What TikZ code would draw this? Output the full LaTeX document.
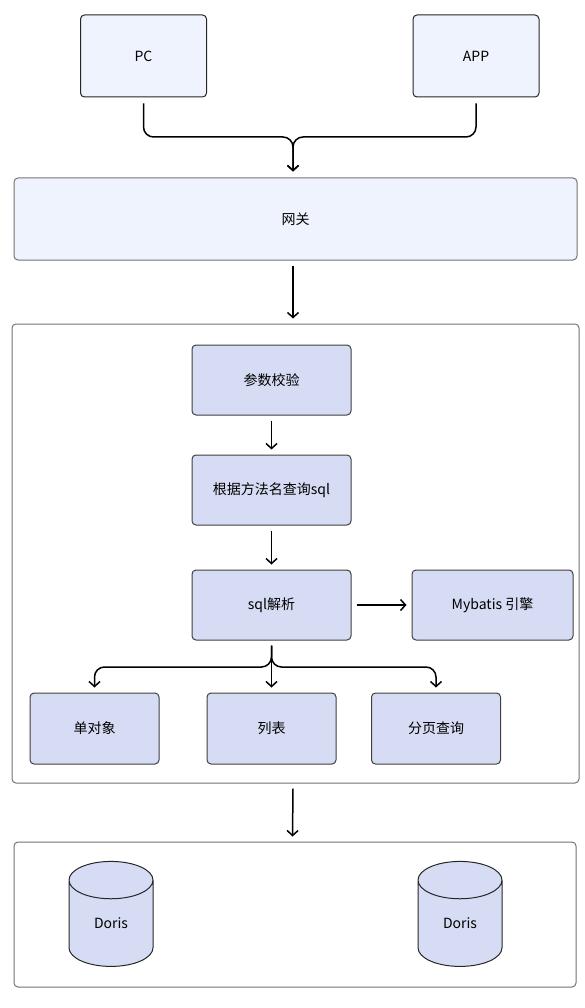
\documentclass[tikz,border=0pt]{standalone}
\usepackage{fontspec}
\setmainfont{Noto Sans CJK SC}
\usetikzlibrary{arrows.meta,shapes.geometric}
\definecolor{paleblue}{HTML}{EFF3FD}
\definecolor{stepblue}{HTML}{D6DCF4}

\def\boxw{159pt}
\def\boxh{70pt}

\begin{document}
\begin{tikzpicture}[x=1pt,y=-1pt,line width=1.5pt,
    -{Straight Barb[length=5pt,width=11pt]},font=\fontsize{14}{16}\selectfont]
    \tikzstyle{every node}=[inner sep=0pt,line width=1pt]
    \tikzstyle{client}=[draw=black!85,fill=paleblue,rounded corners=4pt,
        minimum width=126pt,minimum height=82pt]
    \tikzstyle{frame}=[draw=black!55,rounded corners=4pt]
    \tikzstyle{stepbox}=[draw=black!75,fill=stepblue,rounded corners=4pt,
        minimum width=\boxw,minimum height=\boxh]
    \tikzstyle{result}=[stepbox,minimum width=129pt,minimum height=71pt]
    \tikzstyle{db}=[cylinder,shape border rotate=90,draw=black!85,fill=stepblue,
        aspect=1.1,minimum width=84pt,minimum height=105pt]
    \tikzstyle{merge}=[rounded corners=10pt]

    \useasboundingbox (0,0) rectangle (584,1008);

    % Draw the clients
    \node[client] (PC) at (143.5,56) {PC};
    \node[client] (APP) at (476,56) {APP};

    % Draw the gateway and the two frames
    \node[frame,fill=paleblue,minimum width=563pt,minimum height=82pt] (gw) at (295.5,219) {网关};
    \node[frame,fill=white,minimum width=567pt,minimum height=459pt] (svc) at (295.5,553.5) {};
    \node[frame,fill=white,minimum width=562pt,minimum height=145pt] (store) at (295,914.5) {};

    % Draw the service steps
    \node[stepbox] (check) at (271.5,380) {参数校验};
    \node[stepbox] (query) at (271.5,490) {根据方法名查询sql};
    \node[stepbox] (parse) at (271.5,605) {sql解析};
    \node[stepbox,minimum width=161pt] (mybatis) at (492.5,605) {Mybatis 引擎};
    \node[result] (single) at (94.5,728.5) {单对象};
    \node[result] (list) at (271.5,728.5) {列表};
    \node[result] (page) at (436,728.5) {分页查询};

    % Draw the databases
    \node[db] (db1) at (111,923.5) {Doris};
    \node[db] (db2) at (460,923.5) {Doris};

    % Join the clients at the gateway
    \coordinate (j1) at (293,137);
    \draw[merge] ([yshift=-6pt]PC.south) -- (PC.south|-j1) -- (j1) -- ([yshift=6pt]j1|-gw.north);
    \draw[merge] ([yshift=-6pt]APP.south) -- (APP.south|-j1) -- (j1) -- ([yshift=6pt]j1|-gw.north);

    % Connect the steps
    \draw ([xshift=-2.5pt,yshift=-5pt]gw.south) -- ([xshift=-2.5pt,yshift=5pt]svc.north);
    \draw ([yshift=-5pt]check.south) -- ([yshift=5pt]query.north);
    \draw ([yshift=-5pt]query.south) -- ([yshift=5pt]parse.north);
    \draw ([xshift=5pt]parse.east) -- ([xshift=-5pt]mybatis.west);

    % Split the parsed sql into the results
    \coordinate (j2) at (271.5,667);
    \draw[merge] ([yshift=-5pt]parse.south) -- (j2) -- (j2-|single.north) -- ([yshift=5pt]single.north);
    \draw[merge] ([yshift=-5pt]parse.south) -- (j2) -- (j2-|page.north) -- ([yshift=5pt]page.north);
    \draw ([yshift=-5pt]parse.south) -- ([yshift=5pt]list.north);

    \draw ([xshift=-2.5pt,yshift=-5pt]svc.south) -- ([xshift=-2.5pt,yshift=5pt]store.north);

\end{tikzpicture}
\end{document}
